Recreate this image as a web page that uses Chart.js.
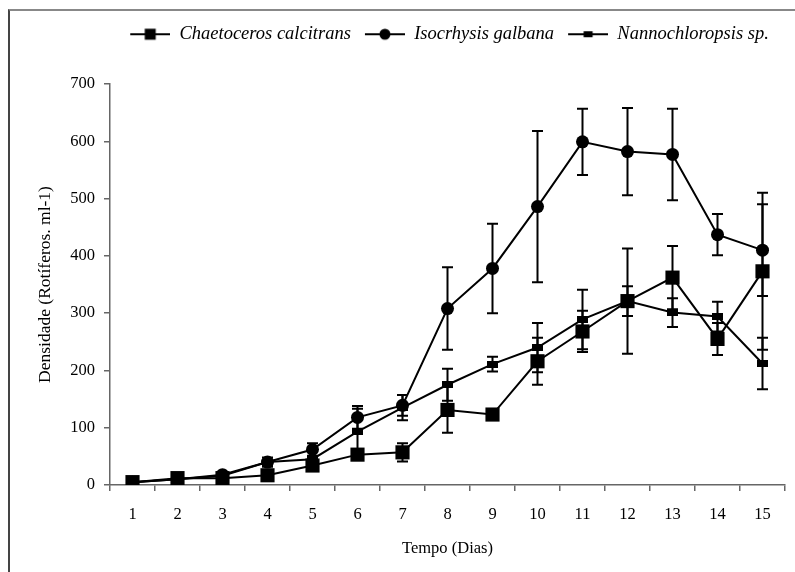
<!DOCTYPE html>
<html>
<head>
<meta charset="utf-8">
<script src="https://cdn.jsdelivr.net/npm/chart.js@4.4.0/dist/chart.umd.min.js"></script>
<style>
html, body { margin: 0; padding: 0; background: #fff; overflow: hidden; }
#wrap { position: relative; width: 795px; height: 572px; }
#frame { position: absolute; left: 8px; top: 9px; width: 900px; height: 700px; border-left: 2px solid #444; border-top: 2px solid #888; }
canvas { position: absolute; left: 0; top: 0; }
</style>
</head>
<body>
<div id="wrap">
  <div id="frame"></div>
  <canvas id="graphic" width="795" height="572"></canvas>
</div>
<script>
const dias = ['1', '2', '3', '4', '5', '6', '7', '8', '9', '10', '11', '12', '13', '14', '15'];

const chaetoceros = [5, 12, 12, 17, 34, 53, 57, 131, 123, 216, 268, 321, 362, 255, 373];
const chaetocerosErro = [1, 3, 3, 4, 6, 8, 16, 40, 4, 41, 36, 92, 55, 28, 137];

const isochrysis = [5, 10, 18, 40, 62, 118, 139, 308, 378, 486, 599, 582, 577, 437, 410];
const isochrysisErro = [1, 2, 3, 8, 11, 20, 18, 72, 78, 132, 58, 76, 80, 36, 80];

const nannochloropsis = [5, 10, 16, 40, 45, 93, 135, 175, 211, 240, 289, 321, 301, 294, 212];
const nannochloropsisErro = [1, 2, 3, 4, 5, 40, 22, 28, 13, 43, 52, 26, 25, 26, 45];

const yTicks = [0, 100, 200, 300, 400, 500, 600, 700];

const fonte = 'Liberation Serif, Times New Roman, serif';

/* marcador retangular pequeno (Nannochloropsis) */
function rectMarker(w, h) {
  const c = document.createElement('canvas');
  c.width = w; c.height = h;
  const g = c.getContext('2d');
  g.fillStyle = '#000';
  g.fillRect(0, 0, w, h);
  return c;
}

/* imagem da legenda: linha + marcador */
function legendMarker(tipo) {
  const c = document.createElement('canvas');
  c.width = 44; c.height = 14;
  const g = c.getContext('2d');
  g.strokeStyle = '#000';
  g.lineWidth = 2;
  g.beginPath();
  g.moveTo(4, 7);
  g.lineTo(44, 7);
  g.stroke();
  g.fillStyle = '#000';
  if (tipo === 'quadrado') {
    g.fillRect(18.5, 1.5, 11, 11);
  } else if (tipo === 'circulo') {
    g.beginPath();
    g.arc(24, 7, 5.5, 0, Math.PI * 2);
    g.fill();
  } else {
    g.fillRect(19.5, 4, 9, 6);
  }
  return c;
}

const legendImgs = [legendMarker('quadrado'), legendMarker('circulo'), legendMarker('retangulo')];

const errorBars = {
  id: 'errorBars',
  afterDatasetsDraw(chart) {
    const ctx = chart.ctx;
    const y = chart.scales.y;
    ctx.save();
    ctx.strokeStyle = '#000';
    ctx.lineWidth = 2;
    chart.data.datasets.forEach((ds, i) => {
      const meta = chart.getDatasetMeta(i);
      meta.data.forEach((pt, j) => {
        const v = ds.data[j];
        const e = ds.erro[j];
        const top = y.getPixelForValue(v + e);
        const bot = y.getPixelForValue(v - e);
        ctx.beginPath();
        ctx.moveTo(pt.x, top);
        ctx.lineTo(pt.x, bot);
        ctx.moveTo(pt.x - 5.5, top);
        ctx.lineTo(pt.x + 5.5, top);
        ctx.moveTo(pt.x - 5.5, bot);
        ctx.lineTo(pt.x + 5.5, bot);
        ctx.stroke();
      });
    });
    ctx.restore();
  }
};

const data = {
  labels: dias,
  datasets: [
    {
      label: 'Chaetoceros calcitrans',
      data: chaetoceros,
      erro: chaetocerosErro,
      borderColor: '#000',
      backgroundColor: '#000',
      borderWidth: 2,
      pointStyle: 'rect',
      pointRadius: 10,
      pointBorderWidth: 0
    },
    {
      label: 'Isocrhysis galbana',
      data: isochrysis,
      erro: isochrysisErro,
      borderColor: '#000',
      backgroundColor: '#000',
      borderWidth: 2,
      pointStyle: 'circle',
      pointRadius: 6.5,
      pointBorderWidth: 0
    },
    {
      label: 'Nannochloropsis sp.',
      data: nannochloropsis,
      erro: nannochloropsisErro,
      borderColor: '#000',
      backgroundColor: '#000',
      borderWidth: 2,
      pointStyle: rectMarker(11, 7),
      pointRadius: 5,
      pointBorderWidth: 0
    }
  ]
};

const config = {
  type: 'line',
  data: data,
  options: {
    responsive: false,
    animation: false,
    layout: { padding: { top: 15, left: 10, right: 7, bottom: 10 } },
    plugins: {
      tooltip: { enabled: false },
      legend: {
        position: 'top',
        fullSize: false,
        weight: 3000,
        labels: {
          usePointStyle: true,
          pointStyleWidth: 44,
          padding: 10,
          color: '#000',
          font: { family: fonte, size: 18.5, style: 'italic' },
          generateLabels: (chart) => chart.data.datasets.map((ds, i) => ({
            text: ds.label,
            pointStyle: legendImgs[i],
            fillStyle: '#000',
            strokeStyle: '#000',
            lineWidth: 0,
            datasetIndex: i
          }))
        }
      },
      /* espaco entre legenda e grafico */
      title: {
        display: true,
        text: '',
        padding: 0,
        font: { size: 30.5, lineHeight: 1 }
      }
    },
    scales: {
      x: {
        type: 'category',
        offset: true,
        grid: { offset: true, drawOnChartArea: false, tickLength: 6, color: '#666', lineWidth: 1.5 },
        border: { color: '#666', width: 1.5 },
        ticks: { color: '#000', padding: 14, maxRotation: 0, font: { family: fonte, size: 16.5 } },
        title: {
          display: true,
          text: 'Tempo (Dias)',
          color: '#000',
          font: { family: fonte, size: 16.5 },
          padding: { top: 0, bottom: 3 }
        },
        afterFit: (s) => { s.height = 77; }
      },
      y: {
        min: 0,
        max: 700,
        afterBuildTicks: (s) => { s.ticks = yTicks.map(v => ({ value: v })); },
        grid: { drawOnChartArea: false, tickLength: 6, color: '#666', lineWidth: 1.5 },
        border: { color: '#666', width: 1.5 },
        ticks: { color: '#000', padding: 9, font: { family: fonte, size: 16.5 } },
        title: {
          display: true,
          text: 'Densidade (Rotíferos. ml-1)',
          color: '#000',
          font: { family: fonte, size: 17.5 },
          padding: { top: 25, bottom: 0 }
        },
        afterFit: (s) => { s.width = 100; }
      }
    }
  },
  plugins: [errorBars]
};

new Chart(document.querySelector('#graphic'), config);
</script>
</body>
</html>
